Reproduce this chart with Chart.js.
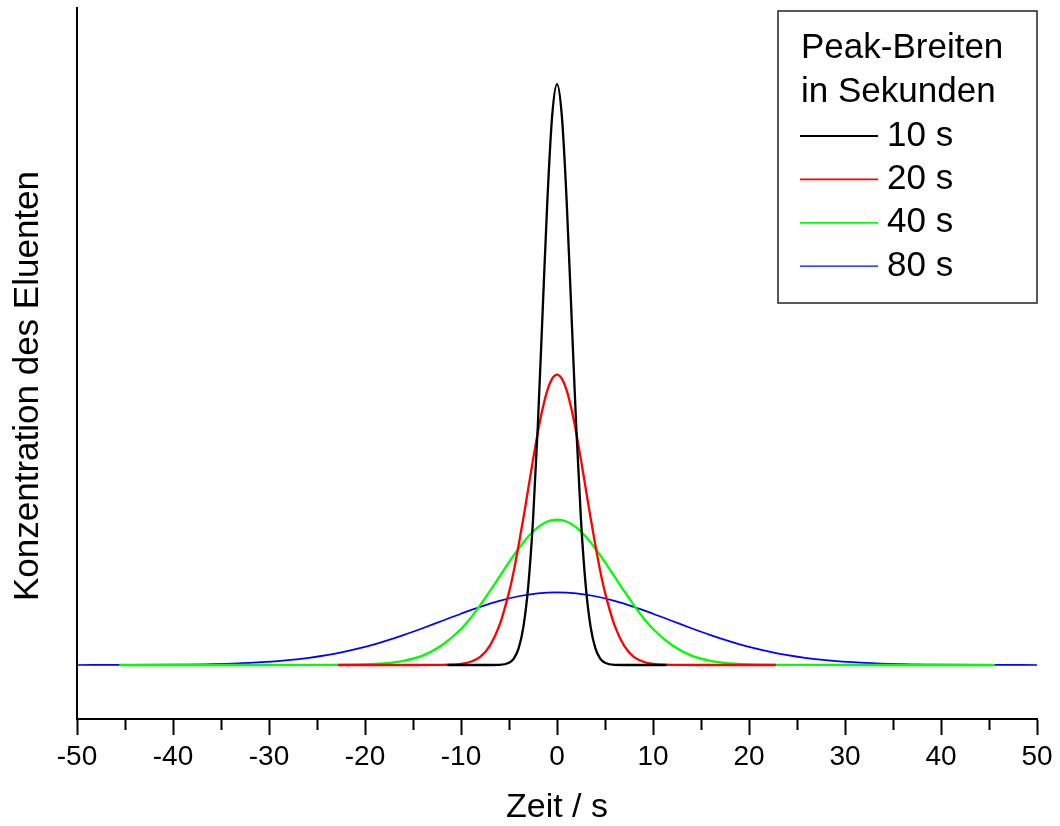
<!DOCTYPE html>
<html>
<head>
<meta charset="utf-8">
<style>
  body { margin: 0; background: #fff; }
  #wrap { width: 1060px; height: 826px; }
</style>
<script src="https://cdn.jsdelivr.net/npm/chart.js@4.4.1/dist/chart.umd.min.js"></script>
</head>
<body>
<div id="wrap"><canvas id="graph" width="1060" height="826"></canvas></div>
<script>
// Peak widths (legend labels)
const peakLabels = ['10 s', '20 s', '40 s', '80 s'];

// time (s) and concentration, one pair of arrays per peak
const timeBlack = [-11.4, -8, -6, -5, -4.5, -4, -3.5, -3, -2.5, -2, -1.5, -1, -0.5, 0, 0.5, 1, 1.5, 2, 2.5, 3, 3.5, 4, 4.5, 5, 6, 8, 11.4];
const concBlack = [0, 0, 0.0003, 0.0039, 0.0111, 0.0286, 0.0657, 0.135, 0.249, 0.411, 0.607, 0.801, 0.946, 1, 0.946, 0.801, 0.607, 0.411, 0.249, 0.135, 0.0657, 0.0286, 0.0111, 0.0039, 0.0003, 0, 0];

const timeRed = [-22.8, -16, -12, -10, -9, -8, -7, -6, -5, -4.5, -4, -3.5, -3, -2.5, -2, -1.5, -1, -0.5, 0, 0.5, 1, 1.5, 2, 2.5, 3, 3.5, 4, 4.5, 5, 6, 7, 8, 9, 10, 12, 16, 22.8];
const concRed = [0, 0, 0.0002, 0.0019, 0.0056, 0.014, 0.033, 0.068, 0.125, 0.162, 0.206, 0.253, 0.303, 0.353, 0.400, 0.441, 0.473, 0.493, 0.5, 0.493, 0.473, 0.441, 0.400, 0.353, 0.303, 0.253, 0.206, 0.162, 0.125, 0.068, 0.033, 0.014, 0.0056, 0.0019, 0.0002, 0, 0];

const timeGreen = [-45.6, -32, -24, -20, -18, -16, -14, -12, -10, -9, -8, -7, -6, -5, -4, -3, -2, -1, 0, 1, 2, 3, 4, 5, 6, 7, 8, 9, 10, 12, 14, 16, 18, 20, 24, 32, 45.6];
const concGreen = [0, 0, 0.0001, 0.0010, 0.0028, 0.0071, 0.016, 0.034, 0.062, 0.081, 0.103, 0.127, 0.152, 0.177, 0.200, 0.221, 0.237, 0.247, 0.25, 0.247, 0.237, 0.221, 0.200, 0.177, 0.152, 0.127, 0.103, 0.081, 0.062, 0.034, 0.016, 0.0071, 0.0028, 0.0010, 0.0001, 0, 0];

const timeBlue = [-50, -45, -40, -36, -32, -28, -24, -20, -18, -16, -14, -12, -10, -8, -6, -4, -2, 0, 2, 4, 6, 8, 10, 12, 14, 16, 18, 20, 24, 28, 32, 36, 40, 45, 50];
const concBlue = [0, 0.0001, 0.0005, 0.0014, 0.0036, 0.0082, 0.0169, 0.0312, 0.0406, 0.0514, 0.0633, 0.0758, 0.0883, 0.1001, 0.1103, 0.1183, 0.1233, 0.125, 0.1233, 0.1183, 0.1103, 0.1001, 0.0883, 0.0758, 0.0633, 0.0514, 0.0406, 0.0312, 0.0169, 0.0082, 0.0036, 0.0014, 0.0005, 0.0001, 0];

const FONT = '"Liberation Sans", Arial, sans-serif';

function pairs(times, values) {
    return times.map((t, i) => ({ x: t, y: values[i] }));
}

// boxed legend with a two-line heading, drawn in the top right corner
const legendBox = {
    id: 'legendBox',
    afterDraw(chart) {
        const ctx = chart.ctx;
        const left = 778, top = 11, right = 1037, bottom = 303;
        ctx.save();
        ctx.strokeStyle = '#222';
        ctx.lineWidth = 1.5;
        ctx.strokeRect(left, top, right - left, bottom - top);
        ctx.fillStyle = '#000';
        ctx.font = '35px ' + FONT;
        ctx.textBaseline = 'middle';
        ctx.textAlign = 'left';
        ctx.fillText('Peak-Breiten', 801, 48);
        ctx.fillText('in Sekunden', 801, 92);
        chart.data.datasets.forEach((ds, i) => {
            const y = 136 + i * 43.4;
            ctx.strokeStyle = ds.borderColor;
            ctx.lineWidth = i === 3 ? 1.2 : 1.8;
            ctx.beginPath();
            ctx.moveTo(800, y);
            ctx.lineTo(878, y);
            ctx.stroke();
            ctx.fillText(ds.label, 887, y);
        });
        ctx.restore();
    }
};

// y axis title sits a bit below the middle of the axis in the original
const yTitle = {
    id: 'yTitle',
    afterDraw(chart) {
        const ctx = chart.ctx;
        ctx.save();
        ctx.translate(28, 386);
        ctx.rotate(-Math.PI / 2);
        ctx.fillStyle = '#000';
        ctx.font = '35px ' + FONT;
        ctx.textAlign = 'center';
        ctx.textBaseline = 'middle';
        ctx.fillText('Konzentration des Eluenten', 0, 0);
        ctx.restore();
    }
};

function createChart() {
    const graph = document.getElementById('graph').getContext('2d');
    const colors = ['#000000', '#ff0000', '#00ff00', '#0000ff'];
    const series = [
        pairs(timeBlack, concBlack),
        pairs(timeRed, concRed),
        pairs(timeGreen, concGreen),
        pairs(timeBlue, concBlue)
    ];
    new Chart(graph, {
        type: 'line',
        data: {
            datasets: series.map((d, i) => ({
                label: peakLabels[i],
                data: d,
                borderColor: colors[i],
                borderWidth: i === 3 ? 1.7 : 2.3,
                pointRadius: 0,
                fill: false,
                cubicInterpolationMode: 'monotone'
            }))
        },
        options: {
            responsive: false,
            animation: false,
            layout: { padding: { left: 0, top: 8, right: 23, bottom: 0 } },
            plugins: { legend: { display: false }, tooltip: { enabled: false } },
            scales: {
                x: {
                    type: 'linear',
                    min: -50,
                    max: 50,
                    afterFit: s => { s.height = 107; },
                    ticks: {
                        stepSize: 5,
                        autoSkip: false,
                        maxRotation: 0,
                        padding: 5,
                        color: '#000',
                        font: { family: FONT, size: 28 },
                        callback: v => (v % 10 === 0 ? String(v) : '')
                    },
                    grid: {
                        drawOnChartArea: false,
                        tickLength: 16,
                        tickWidth: 2,
                        color: '#000',
                        tickColor: '#000',
                        tickBorderDash: c => (c.tick && c.tick.value % 10 !== 0 ? [10, 100] : [])
                    },
                    border: { color: '#000', width: 2 },
                    title: {
                        display: true,
                        text: 'Zeit / s',
                        color: '#000',
                        font: { family: FONT, size: 34, lineHeight: 1 },
                        padding: { top: 0, bottom: 1 }
                    }
                },
                y: {
                    min: -0.093,
                    max: 1.131,
                    afterFit: s => { s.width = 77; },
                    ticks: { display: false },
                    grid: { display: false, drawTicks: false },
                    border: { color: '#000', width: 2 },
                    title: { display: false }
                }
            }
        },
        plugins: [legendBox, yTitle]
    });
}
createChart();
</script>
</body>
</html>
